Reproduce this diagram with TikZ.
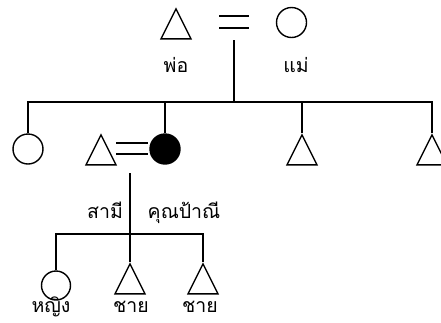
\documentclass[tikz,border=0pt]{standalone}
\usepackage{fontspec}
\newfontfamily\thaifont[Script=Thai]{Loma}
\usetikzlibrary{shapes.geometric,positioning}
\tikzset{
  male/.style={draw, isosceles triangle, isosceles triangle stretches, shape border rotate=90,
    minimum width=30pt, minimum height=30pt, inner sep=0pt},
  female/.style={draw, circle, minimum size=30pt, inner sep=0pt},
  kin/.style={font=\thaifont\fontsize{19.5}{19.5}\selectfont, anchor=base, inner sep=0pt}
}

\begin{document}
\begin{tikzpicture}[x=1pt, y=-1pt, line width=1.4pt]
\useasboundingbox (0,0) rectangle (441,322);
\clip (0,0) rectangle (441,322);

\node[male, anchor=apex] (dad) at (176,7) {};
\node[female] (mum) at (291.5,22.5) {};
\draw (219,16) -- (249,16) (219,28) -- (249,28);
\node[kin] (lbldad) at (176,72) {พ่อ};
\node[kin] (lblmum) at (296,72) {แม่};

\node[female] (sis) at (28,149) {};
\node[male, anchor=apex] (uncle) at (101,133) {};
\node[female, fill] (aunt) at (165,149) {};
\node[male, anchor=apex] (bro1) at (302,133) {};
\node[male, anchor=apex] (bro2) at (432,133) {};
\draw (116,143) -- (148,143) (116,154) -- (148,154);
\node[kin] (lbluncle) at (105,218) {สามี};
\node[kin] (lblaunt) at (184,218) {คุณป้าณี};

\node[female, minimum size=29pt] (girl) at (56,285.5) {};
\node[male, anchor=apex] (son1) at (130,262) {};
\node[male, anchor=apex] (son2) at (203,262) {};
\node[kin] (lblgirl) at (51,312.5) {หญิง};
\node[kin] (lblson1) at (131,312.5) {ชาย};
\node[kin] (lblson2) at (200,312.5) {ชาย};

\coordinate (wed) at (234,40);
\coordinate (sibs) at (234,102);
\draw (wed) -- (sibs);
\draw (sis.north) |- (sibs) -| (bro2.apex);
\draw (sibs) -| (aunt.north);
\draw (sibs) -| (bro1.apex);

\coordinate (pair) at (130,173);
\coordinate (kids) at (130,234);
\draw (pair) -- (son1.apex);
\draw (girl.north) |- (kids) -| (son2.apex);
\end{tikzpicture}
\end{document}
